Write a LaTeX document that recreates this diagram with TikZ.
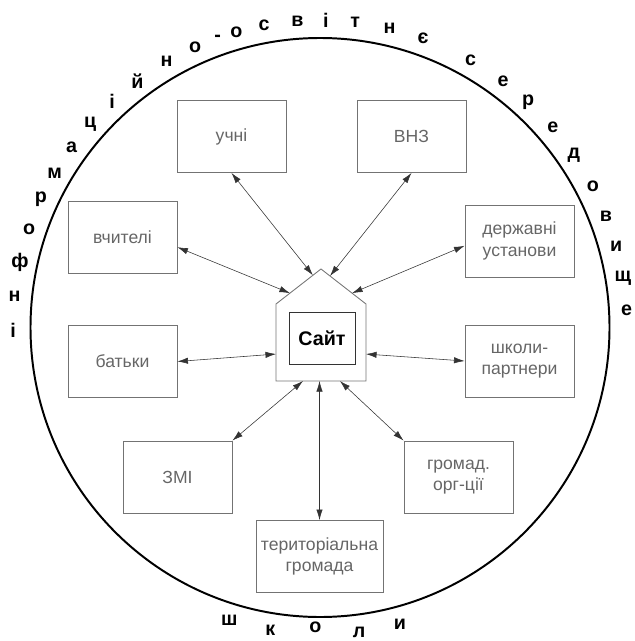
\documentclass[tikz,border=0pt]{standalone}
\usepackage{fontspec}
\setmainfont{Liberation Sans}
\usepackage{tikz}
\usetikzlibrary{calc}
\usetikzlibrary{arrows.meta}
\tikzset{>=latex}
\tikzstyle{box} = [rectangle, draw = black!55, line width = 0.6pt, minimum width = 27.25mm, minimum height = 18mm, align = center, text = black!60, font = \fontsize{12.5}{15.5}\selectfont]
\tikzstyle{link} = [<->, >={Latex[length=7.5pt, width=4.5pt]}, draw = black!80, line width = 0.4pt]
\tikzstyle{letter} = [font = \fontsize{14}{16}\selectfont\bfseries, inner sep = 0]

\begin{document}
\begin{tikzpicture}[x=0.25mm, y=0.25mm]
\useasboundingbox (0,0) rectangle (634,-641);
\coordinate (mid) at (320,-327.5);
\draw [line width = 1.4pt] (mid) circle (289.5);

% house with the site
\coordinate (hl) at (276,-304);
\coordinate (apex) at (321,-269);
\coordinate (hr) at (366,-304);
\coordinate (br) at (366,-381);
\coordinate (bl) at (276,-381);
\draw [draw = black!55, line width = 0.6pt] (bl) -- (hl) -- (apex) -- (hr) -- (br) -- cycle;
\node [rectangle, draw = black!80, line width = 0.7pt, minimum width = 16.5mm, minimum height = 13mm, font = \fontsize{14}{16}\selectfont\bfseries] (site) at (322,-338) {Сайт};

% partners
\node [box] (uchni) at (231.5,-136.5) {учні};
\node [box] (vnz) at (411.5,-136.5) {ВНЗ};
\node [box] (vchyteli) at (122.5,-237.5) {вчителі};
\node [box] (derzh) at (519.5,-241) {державні\\установи};
\node [box] (batky) at (122.5,-361.5) {батьки};
\node [box] (shkoly) at (519.5,-361) {школи-\\партнери};
\node [box] (zmi) at (177.5,-477) {ЗМІ};
\node [box] (hromad) at (458.5,-477) {громад.\\орг-ції};
\node [box, minimum width = 31.75mm] (terr) at (319.5,-556.5) {територіальна\\громада};

% arrow ends on the house
\coordinate (uchniIn) at ($(hl)!0.82!(apex)$);
\coordinate (vnzIn) at ($(hr)!0.8!(apex)$);
\coordinate (vchyteliIn) at ($(hl)!0.31!(apex)$);
\coordinate (derzhIn) at ($(hr)!0.31!(apex)$);
\coordinate (batkyIn) at ($(bl)!0.35!(hl)$);
\coordinate (shkolyIn) at ($(br)!0.35!(hr)$);
\coordinate (zmiIn) at ($(bl)!0.3!(br)$);
\coordinate (hromadIn) at ($(bl)!0.71!(br)$);
\coordinate (terrIn) at ($(bl)!(terr.north)!(br)$);

\draw [link] (uchni.south) -- (uchniIn);
\draw [link] (vnz.south) -- (vnzIn);
\draw [link] (vchyteli.-10) -- (vchyteliIn);
\draw [link] (derzh.185) -- (derzhIn);
\draw [link] (batky.east) -- (batkyIn);
\draw [link] (shkoly.west) -- (shkolyIn);
\draw [link] (zmi.north east) -- (zmiIn);
\draw [link] (hromad.north west) -- (hromadIn);
\draw [link] (terr.north) -- (terrIn);

% letters round the circle
\foreach \a/\l [count=\i] in {180.5/і, 174.2/н, 167.7/ф, 161.4/о, 155.4/р, 149.8/м, 144/а, 138.5/ц, 132.6/і, 126.5/й, 120/н, 114/о, 109.5/-, 105.8/о, 100.5/с, 94.2/в, 88.9/і, 83.4/т, 76.9/н, 70.4/є, 60.6/с, 53.4/е, 47.3/р, 40.7/е, 34.2/д, 27.3/о, 21.3/в, 15.3/и, 9.3/щ, 3.3/е, -107.2/ш, -99.3/к, -82.7/л, -74.9/и}
  \node [letter] (ltr\i) at ($(mid)+(\a:307)$) {\l};
\node [letter] (ltrO) at ($(mid)+(-90.9:300)$) {о};
\end{tikzpicture}
\end{document}
